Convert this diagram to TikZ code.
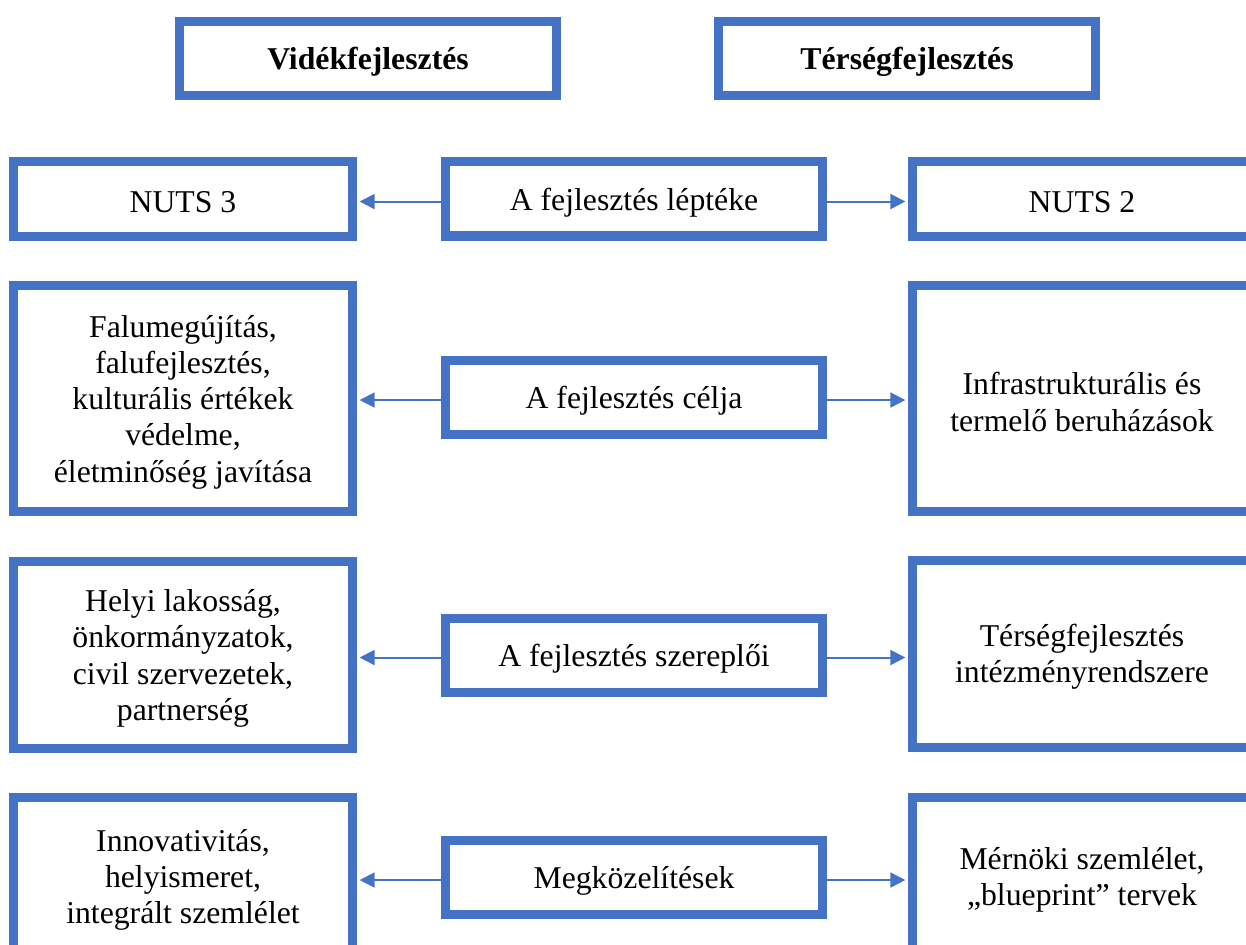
\documentclass[tikz,border=0pt]{standalone}
\usepackage{fontspec}
\setmainfont{Liberation Serif}
\usetikzlibrary{arrows.meta}
\definecolor{boxblue}{HTML}{4472C4}
\tikzset{
  box/.style={draw=boxblue, line width=6.75pt, fill=white, inner sep=0pt, outer sep=3.375pt},
  title/.style={box, minimum width=282.75pt, minimum height=55.5pt},
  mid/.style={box, minimum width=282.75pt, minimum height=55.5pt},
  side/.style={box, minimum width=254.25pt},
  txt/.style={align=center, inner sep=0pt, yshift=-2.6pt, font=\fontsize{23.8}{27.2}\selectfont},
  btxt/.style={txt, font=\fontsize{23.8}{27.2}\selectfont\bfseries},
  arr/.style={draw=boxblue, line width=1.5pt, -{Triangle[length=11.25pt,width=11.25pt]}, shorten >=2pt},
}
\begin{document}
\begin{tikzpicture}[x=0.75pt,y=-0.75pt]
\useasboundingbox (0,0) rectangle (1246,945);
\clip (0,0) rectangle (1246,945);

% title boxes
\node[title] (t1) at (368,58.5) {};
\node[btxt] (t1t) at (t1.center) {Vidékfejlesztés};
\node[title] (t2) at (907,58.5) {};
\node[btxt] (t2t) at (t2.center) {Térségfejlesztés};

% row 1
\node[side, minimum height=56.25pt] (l1) at (183,199) {};
\node[txt] (l1t) at (l1.center) {NUTS 3};
\node[mid] (m1) at (634,199) {};
\node[txt] (m1t) at (m1.center) {A fejlesztés léptéke};
\node[side, minimum height=56.25pt] (r1) at (1082,199) {};
\node[txt] (r1t) at (r1.center) {NUTS 2};

% row 2
\node[side, minimum height=169.5pt] (l2) at (183,398.5) {};
\node[txt] (l2t) at (l2.center) {Falumegújítás,\\falufejlesztés,\\kulturális értékek\\védelme,\\életminőség javítása};
\node[mid] (m2) at (634,397.5) {};
\node[txt] (m2t) at (m2.center) {A fejlesztés célja};
\node[side, minimum height=169.5pt] (r2) at (1082,398.5) {};
\node[txt] (r2t) at (r2.center) {Infrastrukturális és\\termelő beruházások};

% row 3
\node[side, minimum height=140.25pt] (l3) at (183,655) {};
\node[txt] (l3t) at (l3.center) {Helyi lakosság,\\önkormányzatok,\\civil szervezetek,\\partnerség};
\node[mid] (m3) at (634,655) {};
\node[txt] (m3t) at (m3.center) {A fejlesztés szereplői};
\node[side, minimum height=140.25pt] (r3) at (1082,653.5) {};
\node[txt] (r3t) at (r3.center) {Térségfejlesztés\\intézményrendszere};

% row 4
\node[side, minimum height=118.5pt] (l4) at (183,876.5) {};
\node[txt] (l4t) at (l4.center) {Innovativitás,\\helyismeret,\\integrált szemlélet};
\node[mid] (m4) at (634,877.5) {};
\node[txt] (m4t) at (m4.center) {Megközelítések};
\node[side, minimum height=118.5pt] (r4) at (1082,876.5) {};
\node[txt] (r4t) at (r4.center) {Mérnöki szemlélet,\\„blueprint” tervek};

\foreach \m/\l/\r in {m1/l1/r1, m2/l2/r2, m3/l3/r3, m4/l4/r4} {
  \draw[arr] ([yshift=-1.9pt]\m.west) -- ([yshift=-1.9pt]\l.east |- \m.west);
  \draw[arr] ([yshift=-1.9pt]\m.east) -- ([yshift=-1.9pt]\r.west |- \m.east);
}
\end{tikzpicture}
\end{document}
